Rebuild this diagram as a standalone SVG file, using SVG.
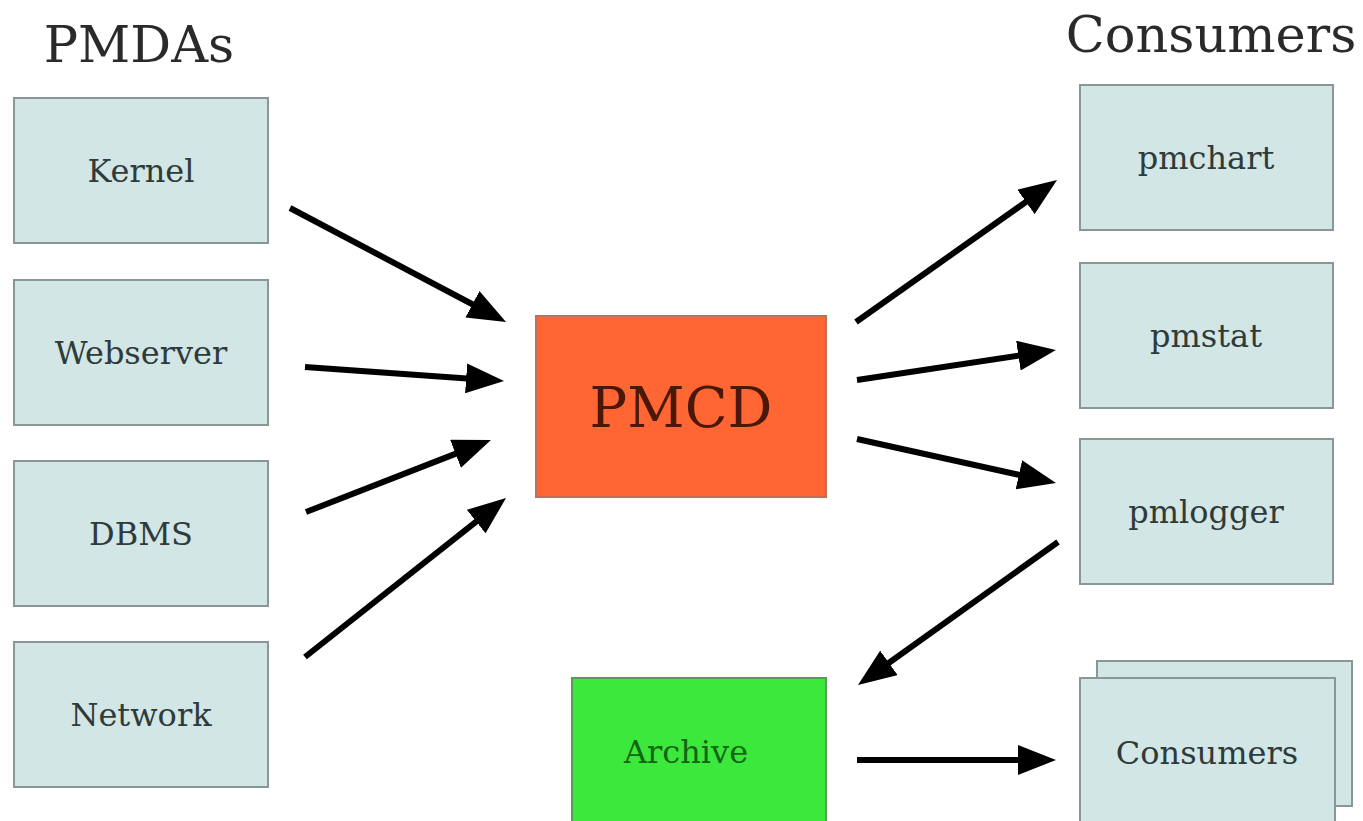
<svg xmlns="http://www.w3.org/2000/svg" width="1363" height="821" viewBox="0 0 1363 821">
<defs>
<marker id="ah" markerUnits="userSpaceOnUse" markerWidth="38" markerHeight="30" refX="8" refY="15" orient="auto">
<path d="M0,0 L38,15 L0,30 Z" fill="#000"/>
</marker>
<style>
.box{fill:#d2e6e6;stroke:#899797;stroke-width:2}
.lbl{font-family:"DejaVu Serif","Liberation Serif",serif;font-size:32px;fill:#2f3a3a;text-anchor:middle}
.title{font-family:"DejaVu Serif","Liberation Serif",serif;font-size:51px;fill:#2a2a2a;text-anchor:middle}
.conn line{stroke:#000;stroke-width:6;marker-end:url(#ah)}
</style>
</defs>
<rect width="1363" height="821" fill="#fff"/>
<text class="title" x="139" y="62">PMDAs</text>
<text class="title" x="1211" y="52">Consumers</text>

<g id="kernel"><rect class="box" x="14" y="98" width="254" height="145"/><text class="lbl" x="141" y="182">Kernel</text></g>
<g id="webserver"><rect class="box" x="14" y="280" width="254" height="145"/><text class="lbl" x="141" y="364">Webserver</text></g>
<g id="dbms"><rect class="box" x="14" y="461" width="254" height="145"/><text class="lbl" x="141" y="545">DBMS</text></g>
<g id="network"><rect class="box" x="14" y="642" width="254" height="145"/><text class="lbl" x="141" y="726">Network</text></g>

<g id="pmcd"><rect x="536" y="316" width="290" height="181" fill="#ff6633" stroke="#c0705a" stroke-width="2"/><text x="681" y="427" font-family="'DejaVu Serif','Liberation Serif',serif" font-size="56" fill="#4a1808" text-anchor="middle">PMCD</text></g>

<g id="pmchart"><rect class="box" x="1080" y="85" width="253" height="145"/><text class="lbl" x="1206" y="169">pmchart</text></g>
<g id="pmstat"><rect class="box" x="1080" y="263" width="253" height="145"/><text class="lbl" x="1206" y="347">pmstat</text></g>
<g id="pmlogger"><rect class="box" x="1080" y="439" width="253" height="145"/><text class="lbl" x="1206" y="523">pmlogger</text></g>

<g id="archive"><rect x="572" y="678" width="254" height="150" fill="#3de83d" stroke="#5a9a5a" stroke-width="2"/><text x="686" y="763" font-family="'DejaVu Serif','Liberation Serif',serif" font-size="32" fill="#126612" text-anchor="middle">Archive</text></g>

<g id="consumers"><rect class="box" x="1097" y="661" width="255" height="145"/><rect class="box" x="1080" y="678" width="255" height="150"/><text class="lbl" x="1207" y="764">Consumers</text></g>

<g id="connectors" class="conn">
<line x1="290" y1="208" x2="479.5" y2="308"/>
<line x1="305" y1="367" x2="474.1" y2="378.9"/>
<line x1="306" y1="512" x2="463" y2="450.9"/>
<line x1="305" y1="657" x2="482.5" y2="516.6"/>
<line x1="856" y1="322" x2="1032.5" y2="197.3"/>
<line x1="857" y1="380" x2="1026.3" y2="354.5"/>
<line x1="857" y1="439" x2="1026.7" y2="476.5"/>
<line x1="1058" y1="542" x2="882.4" y2="667.5"/>
<line x1="857" y1="760" x2="1026" y2="760"/>
</g>
</svg>
